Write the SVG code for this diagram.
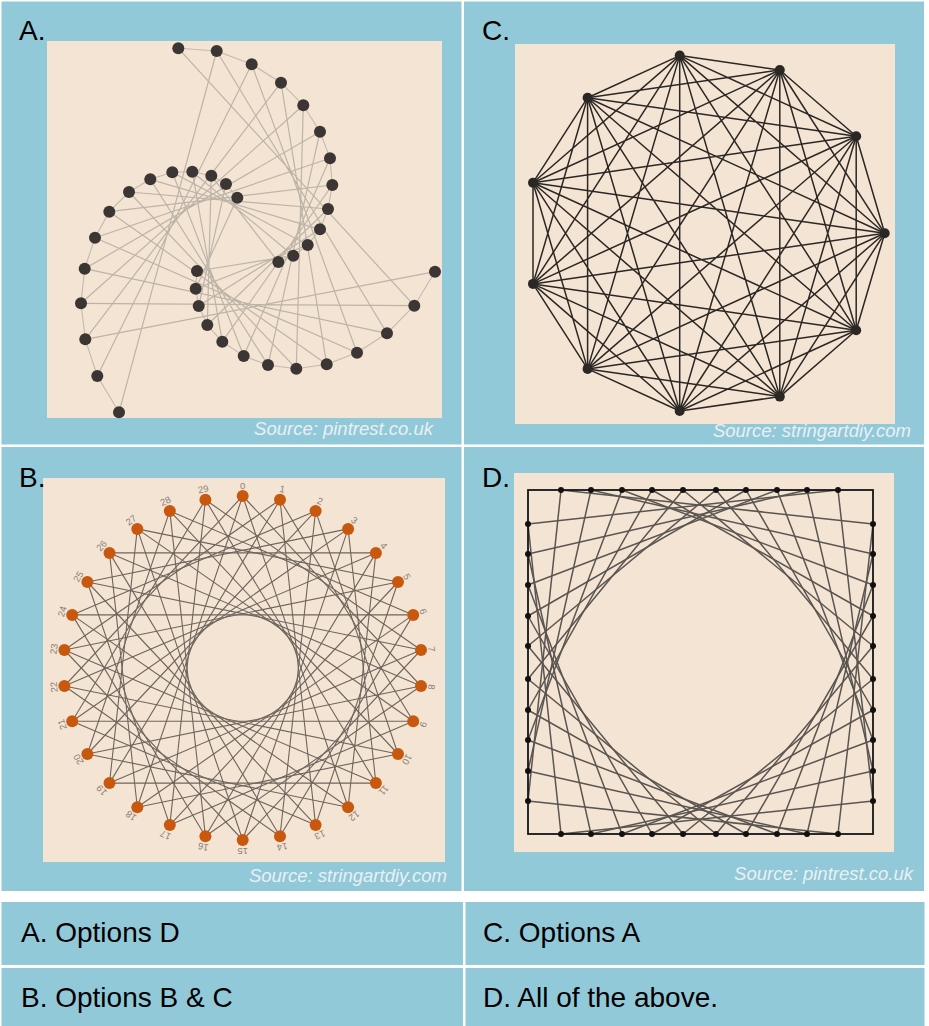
<svg xmlns="http://www.w3.org/2000/svg" width="929" height="1026" viewBox="0 0 929 1026">
<style>
.panel{fill:#91C9D9}
.board{fill:#F4E4D3}
.lbl{font-family:"Liberation Sans",Arial,sans-serif;font-size:28px;fill:#000}
.src{font-family:"Liberation Sans",Arial,sans-serif;font-size:18.5px;font-style:italic;fill:#EAF0F2;text-anchor:end}
.ans{font-family:"Liberation Sans",Arial,sans-serif;font-size:28px;fill:#000}
.aChord{fill:none;stroke:#BDB4A8;stroke-width:1.2}
.aArm{fill:none;stroke:#C3BAAE;stroke-width:1.1}
.aNail{fill:#3B3633}
.cLine{fill:none;stroke:#2B2724;stroke-width:1.5;stroke-linejoin:round}
.cNail{fill:#2A2725}
.bLine{fill:none;stroke:#6E655D;stroke-width:1.1;stroke-linejoin:round}
.bNail{fill:#C9580F}
.bNum{font-family:"Liberation Sans",Arial,sans-serif;font-size:9.5px;fill:#8A8179;text-anchor:middle;dominant-baseline:central}
.dLine{fill:none;stroke:#5A5550;stroke-width:1.5;stroke-linejoin:round}
.dFrame{fill:none;stroke:#151515;stroke-width:1.8}
.dNail{fill:#111}
</style>
<rect x="0" y="0" width="929" height="1026" fill="#FFFFFF"/>

<!-- Panel A -->
<g id="panelA">
<rect class="panel" x="1.5" y="1.5" width="460" height="443"/>
<rect class="board" x="47" y="41" width="395" height="377"/>
<text class="lbl" x="19" y="40">A.</text>
<text class="src" x="433" y="435">Source: pintrest.co.uk</text>
<g id="A-connectors">
<polyline class="aArm" points="237.3,197.7 226,184 211.3,175.7 192.3,171.7 172.3,172.3 150.3,179.3 129,192 109.3,211.7 95,237.7 84.7,268.7 81,303.3 85.3,339.3 97.3,376 119,412.3"/>
<polyline class="aArm" points="278.3,262 293.3,255.7 307.7,245 320,229.3 328,209 332.3,185 330,158.3 320,131.7 303.3,105.3 281,82.7 251.7,64.3 216.7,51 178.3,48.3"/>
<polyline class="aArm" points="197,271 195.7,288.7 198.7,306 207.3,325 222.3,341.7 243.7,356 268,365 296.3,368.7 326.7,364.3 357,352.7 387,333.3 414.3,305.7 435,271.7"/>
<path class="aChord" d="M237.3 197.7L195.7 288.7M226 184L198.7 306M211.3 175.7L207.3 325M192.3 171.7L222.3 341.7M172.3 172.3L243.7 356M150.3 179.3L268 365M129 192L296.3 368.7M109.3 211.7L326.7 364.3M95 237.7L357 352.7M84.7 268.7L387 333.3M81 303.3L414.3 305.7M85.3 339.3L435 271.7"/>
<path class="aChord" d="M197 271L293.3 255.7M195.7 288.7L307.7 245M198.7 306L320 229.3M207.3 325L328 209M222.3 341.7L332.3 185M243.7 356L330 158.3M268 365L320 131.7M296.3 368.7L303.3 105.3M326.7 364.3L281 82.7M357 352.7L251.7 64.3M387 333.3L216.7 51M414.3 305.7L178.3 48.3"/>
<path class="aChord" d="M278.3 262L211.3 175.7M293.3 255.7L192.3 171.7M307.7 245L172.3 172.3M320 229.3L150.3 179.3M328 209L129 192M332.3 185L109.3 211.7M330 158.3L95 237.7M320 131.7L84.7 268.7M303.3 105.3L81 303.3M281 82.7L85.3 339.3M251.7 64.3L97.3 376M216.7 51L119 412.3"/>
</g>
<g id="A-nails" class="aNail">
<circle cx="237.3" cy="197.7" r="6"/><circle cx="226" cy="184" r="6"/><circle cx="211.3" cy="175.7" r="6"/><circle cx="192.3" cy="171.7" r="6"/><circle cx="172.3" cy="172.3" r="6"/><circle cx="150.3" cy="179.3" r="6"/><circle cx="129" cy="192" r="6"/><circle cx="109.3" cy="211.7" r="6"/><circle cx="95" cy="237.7" r="6"/><circle cx="84.7" cy="268.7" r="6"/><circle cx="81" cy="303.3" r="6"/><circle cx="85.3" cy="339.3" r="6"/><circle cx="97.3" cy="376" r="6"/><circle cx="119" cy="412.3" r="6"/>
<circle cx="278.3" cy="262" r="6"/><circle cx="293.3" cy="255.7" r="6"/><circle cx="307.7" cy="245" r="6"/><circle cx="320" cy="229.3" r="6"/><circle cx="328" cy="209" r="6"/><circle cx="332.3" cy="185" r="6"/><circle cx="330" cy="158.3" r="6"/><circle cx="320" cy="131.7" r="6"/><circle cx="303.3" cy="105.3" r="6"/><circle cx="281" cy="82.7" r="6"/><circle cx="251.7" cy="64.3" r="6"/><circle cx="216.7" cy="51" r="6"/><circle cx="178.3" cy="48.3" r="6"/>
<circle cx="197" cy="271" r="6"/><circle cx="195.7" cy="288.7" r="6"/><circle cx="198.7" cy="306" r="6"/><circle cx="207.3" cy="325" r="6"/><circle cx="222.3" cy="341.7" r="6"/><circle cx="243.7" cy="356" r="6"/><circle cx="268" cy="365" r="6"/><circle cx="296.3" cy="368.7" r="6"/><circle cx="326.7" cy="364.3" r="6"/><circle cx="357" cy="352.7" r="6"/><circle cx="387" cy="333.3" r="6"/><circle cx="414.3" cy="305.7" r="6"/><circle cx="435" cy="271.7" r="6"/>
</g>
</g>

<!-- Panel C -->
<g id="panelC">
<rect class="panel" x="464" y="1.5" width="460" height="443"/>
<rect class="board" x="515" y="44" width="380" height="380"/>
<text class="lbl" x="482" y="40">C.</text>
<text class="src" x="911" y="437">Source: stringartdiy.com</text>
<g id="C-connectors">
<path class="cLine" d="M679.7 55.6L779.8 70L856.2 136.3L884.7 233.3L856.2 330.3L779.8 396.6L679.7 411L587.6 368.9L533 283.9L533 182.7L587.6 97.7Z"/>
<path class="cLine" d="M679.7 55.6L856.2 136.3L856.2 330.3L679.7 411L533 283.9L587.6 97.7L779.8 70L884.7 233.3L779.8 396.6L587.6 368.9L533 182.7Z"/>
<path class="cLine" d="M679.7 55.6L884.7 233.3L679.7 411L533 182.7L779.8 70L856.2 330.3L587.6 368.9L587.6 97.7L856.2 136.3L779.8 396.6L533 283.9Z"/>
<path class="cLine" d="M679.7 55.6L856.2 330.3L533 283.9L779.8 70L779.8 396.6L533 182.7L856.2 136.3L679.7 411L587.6 97.7L884.7 233.3L587.6 368.9Z"/>
<path class="cLine" d="M679.7 55.6L779.8 396.6L587.6 97.7L856.2 330.3L533 182.7L884.7 233.3L533 283.9L856.2 136.3L587.6 368.9L779.8 70L679.7 411Z"/>
</g>
<g id="C-nails" class="cNail">
<circle cx="679.7" cy="55.6" r="5"/><circle cx="779.8" cy="70" r="5"/><circle cx="856.2" cy="136.3" r="5"/><circle cx="884.7" cy="233.3" r="5"/><circle cx="856.2" cy="330.3" r="5"/><circle cx="779.8" cy="396.6" r="5"/><circle cx="679.7" cy="411" r="5"/><circle cx="587.6" cy="368.9" r="5"/><circle cx="533" cy="283.9" r="5"/><circle cx="533" cy="182.7" r="5"/><circle cx="587.6" cy="97.7" r="5"/>
</g>
</g>

<!-- Panel B -->
<g id="panelB">
<rect class="panel" x="1.5" y="447" width="460" height="444"/>
<rect class="board" x="43" y="478" width="402" height="384"/>
<text class="lbl" x="19" y="487">B.</text>
<text class="src" x="447" y="882">Source: stringartdiy.com</text>
<g id="B-connectors">
<path class="bLine" d="M242.7 496L421 686L205.4 836.2L72.2 614.9L315.6 510.9L398 754L137.3 807.2L109.5 552.9L375.9 552.9L348.1 807.2L87.4 754L169.8 510.9L413.2 614.9L280 836.2L64.4 686Z"/>
<path class="bLine" d="M280 499.8L413.2 721.2L169.8 825.1L87.4 582L348.1 528.9L375.9 783.1L109.5 783.1L137.3 528.9L398 582L315.6 825.1L72.2 721.2L205.4 499.8L421 650L242.7 840L64.4 650Z"/>
<path class="bLine" d="M242.7 496L348.1 807.2L72.2 614.9L413.2 614.9L137.3 807.2Z"/>
<path class="bLine" d="M280 499.8L315.6 825.1L87.4 582L421 650L109.5 783.1Z"/>
<path class="bLine" d="M315.6 510.9L280 836.2L109.5 552.9L421 686L87.4 754Z"/>
<path class="bLine" d="M348.1 528.9L242.7 840L137.3 528.9L413.2 721.2L72.2 721.2Z"/>
<path class="bLine" d="M375.9 552.9L205.4 836.2L169.8 510.9L398 754L64.4 686Z"/>
<path class="bLine" d="M398 582L169.8 825.1L205.4 499.8L375.9 783.1L64.4 650Z"/>
</g>
<g id="B-nails" class="bNail">
<circle cx="242.7" cy="496" r="6"/><circle cx="280" cy="499.8" r="6"/><circle cx="315.6" cy="510.9" r="6"/><circle cx="348.1" cy="528.9" r="6"/><circle cx="375.9" cy="552.9" r="6"/><circle cx="398" cy="582" r="6"/><circle cx="413.2" cy="614.9" r="6"/><circle cx="421" cy="650" r="6"/><circle cx="421" cy="686" r="6"/><circle cx="413.2" cy="721.2" r="6"/><circle cx="398" cy="754" r="6"/><circle cx="375.9" cy="783.1" r="6"/><circle cx="348.1" cy="807.2" r="6"/><circle cx="315.6" cy="825.1" r="6"/><circle cx="280" cy="836.2" r="6"/><circle cx="242.7" cy="840" r="6"/><circle cx="205.4" cy="836.2" r="6"/><circle cx="169.8" cy="825.1" r="6"/><circle cx="137.3" cy="807.2" r="6"/><circle cx="109.5" cy="783.1" r="6"/><circle cx="87.4" cy="754" r="6"/><circle cx="72.2" cy="721.2" r="6"/><circle cx="64.4" cy="686" r="6"/><circle cx="64.4" cy="650" r="6"/><circle cx="72.2" cy="614.9" r="6"/><circle cx="87.4" cy="582" r="6"/><circle cx="109.5" cy="552.9" r="6"/><circle cx="137.3" cy="528.9" r="6"/><circle cx="169.8" cy="510.9" r="6"/><circle cx="205.4" cy="499.8" r="6"/>
</g>
<g id="B-numbers">
<text class="bNum" x="242.7" y="485" transform="rotate(0 242.7 485)">0</text>
<text class="bNum" x="282.2" y="489" transform="rotate(12 282.2 489)">1</text>
<text class="bNum" x="320" y="500.8" transform="rotate(24 320 500.8)">2</text>
<text class="bNum" x="354.4" y="520" transform="rotate(36 354.4 520)">3</text>
<text class="bNum" x="383.9" y="545.6" transform="rotate(48 383.9 545.6)">4</text>
<text class="bNum" x="407.2" y="576.5" transform="rotate(60 407.2 576.5)">5</text>
<text class="bNum" x="423.4" y="611.5" transform="rotate(72 423.4 611.5)">6</text>
<text class="bNum" x="431.7" y="648.9" transform="rotate(84 431.7 648.9)">7</text>
<text class="bNum" x="431.7" y="687.1" transform="rotate(96 431.7 687.1)">8</text>
<text class="bNum" x="423.4" y="724.5" transform="rotate(108 423.4 724.5)">9</text>
<text class="bNum" x="407.2" y="759.5" transform="rotate(120 407.2 759.5)">10</text>
<text class="bNum" x="383.9" y="790.4" transform="rotate(132 383.9 790.4)">11</text>
<text class="bNum" x="354.4" y="816" transform="rotate(144 354.4 816)">12</text>
<text class="bNum" x="320" y="835.2" transform="rotate(156 320 835.2)">13</text>
<text class="bNum" x="282.2" y="847" transform="rotate(168 282.2 847)">14</text>
<text class="bNum" x="242.7" y="851" transform="rotate(180 242.7 851)">15</text>
<text class="bNum" x="203.2" y="847" transform="rotate(192 203.2 847)">16</text>
<text class="bNum" x="165.4" y="835.2" transform="rotate(204 165.4 835.2)">17</text>
<text class="bNum" x="131" y="816" transform="rotate(216 131 816)">18</text>
<text class="bNum" x="101.5" y="790.4" transform="rotate(228 101.5 790.4)">19</text>
<text class="bNum" x="78.2" y="759.5" transform="rotate(240 78.2 759.5)">20</text>
<text class="bNum" x="62" y="724.5" transform="rotate(252 62 724.5)">21</text>
<text class="bNum" x="53.7" y="687.1" transform="rotate(264 53.7 687.1)">22</text>
<text class="bNum" x="53.7" y="648.9" transform="rotate(276 53.7 648.9)">23</text>
<text class="bNum" x="62" y="611.5" transform="rotate(288 62 611.5)">24</text>
<text class="bNum" x="78.2" y="576.5" transform="rotate(300 78.2 576.5)">25</text>
<text class="bNum" x="101.5" y="545.6" transform="rotate(312 101.5 545.6)">26</text>
<text class="bNum" x="131" y="520" transform="rotate(324 131 520)">27</text>
<text class="bNum" x="165.4" y="500.8" transform="rotate(336 165.4 500.8)">28</text>
<text class="bNum" x="203.2" y="489" transform="rotate(348 203.2 489)">29</text>
</g>
</g>

<!-- Panel D -->
<g id="panelD">
<rect class="panel" x="464" y="447" width="460" height="444"/>
<rect class="board" x="514" y="473" width="380" height="379"/>
<text class="lbl" x="482" y="487">D.</text>
<text class="src" x="913" y="880">Source: pintrest.co.uk</text>
<g id="D-connectors">
<path class="dLine" d="M561 490L873 524L838 834L528 801Z"/>
<path class="dLine" d="M591 490L873 554L807 834L528 771Z"/>
<path class="dLine" d="M622 490L873 585L777 834L528 740Z"/>
<path class="dLine" d="M652 490L873 616L746 834L528 710Z"/>
<path class="dLine" d="M683 490L873 646L716 834L528 679Z"/>
<path class="dLine" d="M716 490L873 679L683 834L528 646Z"/>
<path class="dLine" d="M746 490L873 710L652 834L528 616Z"/>
<path class="dLine" d="M777 490L873 740L622 834L528 585Z"/>
<path class="dLine" d="M807 490L873 771L591 834L528 554Z"/>
<path class="dLine" d="M838 490L873 801L561 834L528 524Z"/>
<rect class="dFrame" x="528" y="490" width="345" height="344"/>
</g>
<g id="D-nails" class="dNail">
<circle cx="561" cy="490" r="3"/><circle cx="591" cy="490" r="3"/><circle cx="622" cy="490" r="3"/><circle cx="652" cy="490" r="3"/><circle cx="683" cy="490" r="3"/><circle cx="716" cy="490" r="3"/><circle cx="746" cy="490" r="3"/><circle cx="777" cy="490" r="3"/><circle cx="807" cy="490" r="3"/><circle cx="838" cy="490" r="3"/>
<circle cx="561" cy="834" r="3"/><circle cx="591" cy="834" r="3"/><circle cx="622" cy="834" r="3"/><circle cx="652" cy="834" r="3"/><circle cx="683" cy="834" r="3"/><circle cx="716" cy="834" r="3"/><circle cx="746" cy="834" r="3"/><circle cx="777" cy="834" r="3"/><circle cx="807" cy="834" r="3"/><circle cx="838" cy="834" r="3"/>
<circle cx="528" cy="524" r="3"/><circle cx="528" cy="554" r="3"/><circle cx="528" cy="585" r="3"/><circle cx="528" cy="616" r="3"/><circle cx="528" cy="646" r="3"/><circle cx="528" cy="679" r="3"/><circle cx="528" cy="710" r="3"/><circle cx="528" cy="740" r="3"/><circle cx="528" cy="771" r="3"/><circle cx="528" cy="801" r="3"/>
<circle cx="873" cy="524" r="3"/><circle cx="873" cy="554" r="3"/><circle cx="873" cy="585" r="3"/><circle cx="873" cy="616" r="3"/><circle cx="873" cy="646" r="3"/><circle cx="873" cy="679" r="3"/><circle cx="873" cy="710" r="3"/><circle cx="873" cy="740" r="3"/><circle cx="873" cy="771" r="3"/><circle cx="873" cy="801" r="3"/>
</g>
</g>

<!-- Answers -->
<g id="answerA">
<rect class="panel" x="1.5" y="902" width="461.5" height="63"/>
<text class="ans" x="21" y="942">A. Options D</text>
</g>
<g id="answerC">
<rect class="panel" x="465.5" y="902" width="459" height="63"/>
<text class="ans" x="483" y="942">C. Options A</text>
</g>
<g id="answerB">
<rect class="panel" x="1.5" y="968" width="461.5" height="58"/>
<text class="ans" x="21" y="1007">B. Options B &amp; C</text>
</g>
<g id="answerD">
<rect class="panel" x="465.5" y="968" width="459" height="58"/>
<text class="ans" x="483" y="1007">D. All of the above.</text>
</g>
</svg>
